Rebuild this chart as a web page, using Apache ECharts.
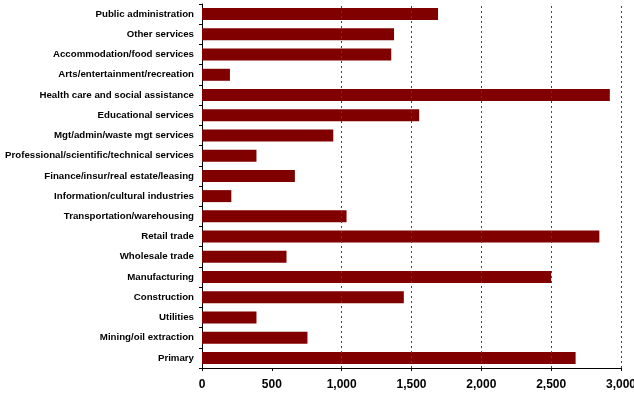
<!DOCTYPE html>
<html>
<head>
<meta charset="utf-8">
<script src="https://cdn.jsdelivr.net/npm/echarts@6/dist/echarts.min.js"></script>
<style>
html,body{margin:0;padding:0;background:#fff;}
#chart{width:634px;height:395px;}
</style>
</head>
<body>
<div id="chart"></div>
<script>
// Categories listed bottom to top (as drawn by ECharts category axis)
const categories = [
  "Primary",
  "Mining/oil extraction",
  "Utilities",
  "Construction",
  "Manufacturing",
  "Wholesale trade",
  "Retail trade",
  "Transportation/warehousing",
  "Information/cultural industries",
  "Finance/insur/real estate/leasing",
  "Professional/scientific/technical services",
  "Mgt/admin/waste mgt services",
  "Educational services",
  "Health care and social assistance",
  "Arts/entertainment/recreation",
  "Accommodation/food services",
  "Other services",
  "Public administration"
];
const values = [2675, 755, 390, 1445, 2500, 605, 2845, 1035, 210, 665, 390, 940, 1555, 2920, 200, 1355, 1375, 1690];
const gridValues = [1000, 1500, 2000, 2500, 3000];
const xMin = 0, xMax = 3000, xInterval = 500;

const chart = echarts.init(document.getElementById('chart'), null, {renderer: 'canvas'});
chart.setOption({
  animation: false,
  backgroundColor: '#ffffff',
  grid: {left: 202, right: 13, top: 4, bottom: 27, containLabel: false, outerBoundsMode: 'none'},
  xAxis: {
    type: 'value',
    min: xMin, max: xMax, interval: xInterval,
    axisLine: {show: true, lineStyle: {color: '#000', width: 1}},
    axisTick: {show: true, length: 3, lineStyle: {color: '#000'}},
    splitLine: {show: false},
    axisLabel: {
      color: '#000', fontFamily: 'Liberation Sans, Arial, sans-serif', fontWeight: 'bold', fontSize: 12,
      margin: 11,
      formatter: v => v.toLocaleString('en-US')
    }
  },
  yAxis: {
    type: 'category',
    data: categories,
    axisLine: {show: true, lineStyle: {color: '#000', width: 1}},
    axisTick: {show: true, length: 3, lineStyle: {color: '#000'}},
    axisLabel: {
      color: '#000', fontFamily: 'Liberation Sans, Arial, sans-serif', fontWeight: 'bold', fontSize: 9.7,
      margin: 8
    }
  },
  series: [{
    type: 'bar',
    data: values,
    barWidth: 12,
    itemStyle: {color: '#800000'},
    markLine: {
      silent: true,
      symbol: 'none',
      label: {show: false},
      lineStyle: {type: [2, 3], color: '#444', width: 1},
      data: gridValues.map(v => ({xAxis: v}))
    },
    z: 3
  }]
});
</script>
</body>
</html>
